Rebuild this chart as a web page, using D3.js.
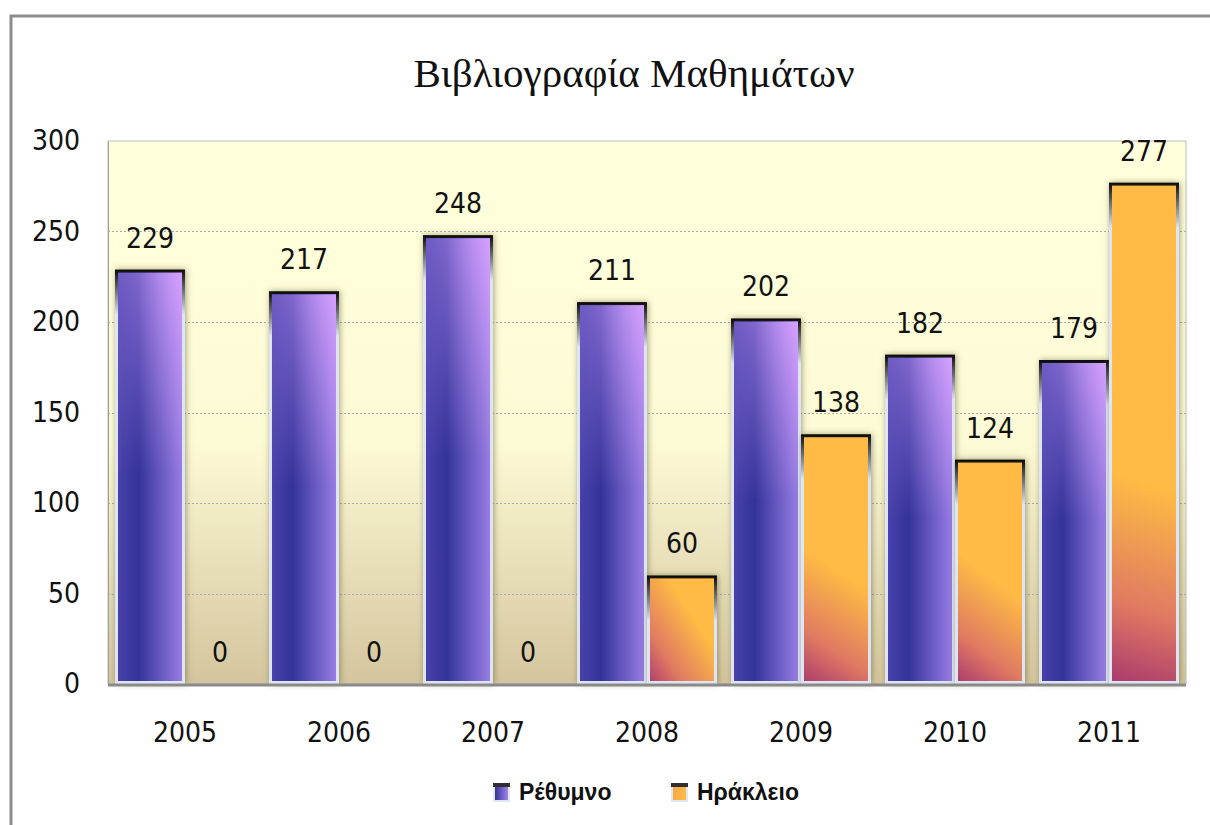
<!DOCTYPE html>
<html>
<head>
<meta charset="utf-8">
<script src="https://cdn.jsdelivr.net/npm/d3@7"></script>
<style>
  body { margin: 0; background: #fff; }
  svg text { fill: #111; }
</style>
</head>
<body>
<script>
// chart data
var years = ["2005", "2006", "2007", "2008", "2009", "2010", "2011"];
var seriesNames = ["Ρέθυμνο", "Ηράκλειο"];
var rethymno = [229, 217, 248, 211, 202, 182, 179];
var heraklio = [0, 0, 0, 60, 138, 124, 277];
var yTicks = [0, 50, 100, 150, 200, 250, 300];
var title = "Βιβλιογραφία Μαθημάτων";

var svgWidth = 1210, svgHeight = 825;
var plot = { left: 108, top: 141, right: 1186, bottom: 684 };
var numFont = "'DejaVu Sans Condensed', 'Liberation Sans', sans-serif";

var svg = d3.select("body").append("svg")
  .attr("width", svgWidth)
  .attr("height", svgHeight);

var defs = svg.append("defs");

// plot background
var bg = defs.append("linearGradient").attr("id", "bgGrad")
  .attr("x1", 0).attr("y1", 0).attr("x2", 0).attr("y2", 1);
bg.append("stop").attr("offset", 0).attr("stop-color", "#ffffdc");
bg.append("stop").attr("offset", 0.55).attr("stop-color", "#fdfbd6");
bg.append("stop").attr("offset", 1).attr("stop-color", "#d4c59e");

// purple bars
var pg = defs.append("linearGradient").attr("id", "purpleGrad")
  .attr("x1", 0).attr("y1", 0).attr("x2", 1).attr("y2", 0);
pg.append("stop").attr("offset", 0).attr("stop-color", "#4a42ab");
pg.append("stop").attr("offset", 0.33).attr("stop-color", "#333399");
pg.append("stop").attr("offset", 1).attr("stop-color", "#9a7ee6");

// lavender sheen, stronger to the right and to the top
var ph = defs.append("linearGradient").attr("id", "purpleSheen")
  .attr("x1", 0).attr("y1", 0).attr("x2", 1).attr("y2", 0);
ph.append("stop").attr("offset", 0).attr("stop-color", "#b58cf5").attr("stop-opacity", 0.35);
ph.append("stop").attr("offset", 1).attr("stop-color", "#d9a3ff").attr("stop-opacity", 0.95);

var pm = defs.append("linearGradient").attr("id", "sheenMaskGrad")
  .attr("x1", 0).attr("y1", 0).attr("x2", 0).attr("y2", 1);
pm.append("stop").attr("offset", 0).attr("stop-color", "#fff");
pm.append("stop").attr("offset", 0.5).attr("stop-color", "#000");

defs.append("mask").attr("id", "sheenMask")
  .attr("maskContentUnits", "objectBoundingBox")
  .append("rect").attr("width", 1).attr("height", 1).attr("fill", "url(#sheenMaskGrad)");

var shadow = defs.append("filter").attr("id", "barShadow")
  .attr("x", "-20%").attr("y", "-20%").attr("width", "140%").attr("height", "140%");
shadow.append("feDropShadow")
  .attr("dx", 1).attr("dy", 0).attr("stdDeviation", 3)
  .attr("flood-color", "#5a5428").attr("flood-opacity", 0.55);

// outer frame
svg.append("rect")
  .attr("x", 11).attr("y", 16)
  .attr("width", svgWidth + 50).attr("height", svgHeight + 50)
  .attr("fill", "none").attr("stroke", "#8c8c8c").attr("stroke-width", 3);

// title
svg.append("text")
  .attr("x", 634).attr("y", 87)
  .attr("text-anchor", "middle")
  .style("font-family", "'Liberation Serif', 'DejaVu Serif', serif")
  .style("font-size", "41px")
  .text(title);

// scales
var x0 = d3.scaleBand()
  .domain(years)
  .range([plot.left, plot.right])
  .paddingInner(14 / 154)
  .paddingOuter(7 / 154);

var x1 = d3.scaleBand()
  .domain(seriesNames)
  .range([0, x0.bandwidth()]);

var y = d3.scaleLinear()
  .domain([0, 300])
  .range([plot.bottom, plot.top]);

// plot area
svg.append("rect")
  .attr("x", plot.left).attr("y", plot.top)
  .attr("width", plot.right - plot.left).attr("height", plot.bottom - plot.top)
  .attr("fill", "url(#bgGrad)")
  .attr("stroke", "#bdbdbd").attr("stroke-width", 1);

// gridlines
svg.append("g")
  .selectAll("line")
  .data(yTicks.filter(d => d > 0 && d < 300))
  .enter().append("line")
  .attr("x1", plot.left).attr("x2", plot.right)
  .attr("y1", d => Math.round(y(d)) + 0.5).attr("y2", d => Math.round(y(d)) + 0.5)
  .attr("stroke", "#a8a8b0")
  .attr("stroke-dasharray", "2,2");

// y axis labels
var yAxis = d3.axisLeft(y).tickValues(yTicks).tickSize(0).tickPadding(28);
var yg = svg.append("g")
  .attr("transform", `translate(${plot.left},0)`)
  .call(yAxis);
yg.select(".domain").attr("stroke", "#a0a0a0");
yg.selectAll("text")
  .style("font-family", numFont)
  .style("font-size", "28px")
  .attr("fill", "#111");

// x axis labels
var xAxis = d3.axisBottom(x0).tickSize(0).tickPadding(38);
var xg = svg.append("g")
  .attr("transform", `translate(0,${plot.bottom})`)
  .call(xAxis);
xg.select(".domain").remove();
xg.selectAll("text")
  .style("font-family", numFont)
  .style("font-size", "28px")
  .attr("fill", "#111");

// build rows
var rows = [];
years.forEach(function(yr, i) {
  rows.push({ year: yr, series: seriesNames[0], value: rethymno[i], idx: i });
  rows.push({ year: yr, series: seriesNames[1], value: heraklio[i], idx: i });
});

var bars = rows.filter(d => d.value > 0);

// per-bar gradients (stroke and orange fill)
bars.forEach(function(d, k) {
  var bx = x0(d.year) + x1(d.series);
  var top = y(d.value);
  var h = y(0) - top;
  var sg = defs.append("linearGradient").attr("id", "stroke" + k)
    .attr("gradientUnits", "userSpaceOnUse")
    .attr("x1", 0).attr("y1", top).attr("x2", 0).attr("y2", top + 45);
  sg.append("stop").attr("offset", 0).attr("stop-color", "#0a0a0a");
  sg.append("stop").attr("offset", 1).attr("stop-color", "#dde4f3");
  if (d.series === seriesNames[1]) {
    var og = defs.append("linearGradient").attr("id", "orange" + k)
      .attr("gradientUnits", "userSpaceOnUse")
      .attr("x1", bx).attr("y1", plot.bottom)
      .attr("x2", bx + 90).attr("y2", plot.bottom - 0.55 * h);
    og.append("stop").attr("offset", 0).attr("stop-color", "#a8386e");
    og.append("stop").attr("offset", 0.28).attr("stop-color", "#df7a62");
    og.append("stop").attr("offset", 0.7).attr("stop-color", "#ffbb44");
  }
  d.k = k;
});

var barG = svg.append("g");

barG.selectAll("rect.bar")
  .data(bars)
  .enter().append("rect")
  .attr("class", "bar")
  .attr("x", d => x0(d.year) + x1(d.series) + 1.5)
  .attr("y", d => y(d.value) + 1.5)
  .attr("width", x1.bandwidth() - 3)
  .attr("height", d => y(0) - y(d.value) - 3)
  .attr("fill", d => d.series === seriesNames[0] ? "url(#purpleGrad)" : "url(#orange" + d.k + ")")
  .attr("stroke", d => "url(#stroke" + d.k + ")")
  .attr("stroke-width", 3)
  .attr("filter", "url(#barShadow)");

barG.selectAll("rect.hl")
  .data(bars.filter(d => d.series === seriesNames[0]))
  .enter().append("rect")
  .attr("class", "hl")
  .attr("x", d => x0(d.year) + x1(d.series) + 3)
  .attr("y", d => y(d.value) + 3)
  .attr("width", x1.bandwidth() - 6)
  .attr("height", d => y(0) - y(d.value) - 6)
  .attr("fill", "url(#purpleSheen)")
  .attr("mask", "url(#sheenMask)");

// bottom axis line
svg.append("line")
  .attr("x1", plot.left).attr("x2", plot.right)
  .attr("y1", plot.bottom + 1).attr("y2", plot.bottom + 1)
  .attr("stroke", "#8a8a8a").attr("stroke-width", 3);

// value labels
svg.append("g")
  .selectAll("text")
  .data(rows)
  .enter().append("text")
  .attr("x", d => x0(d.year) + x1(d.series) + x1.bandwidth() / 2)
  .attr("y", d => y(d.value) - 22)
  .attr("text-anchor", "middle")
  .style("font-family", numFont)
  .style("font-size", "28px")
  .text(d => d.value);

// legend
var legendX = [493, 671];
var legendColors = [["#333399", "#a283ea"], ["#f7a847", "#ffbb44"]];
var lg = svg.append("g");
seriesNames.forEach(function(name, i) {
  var g = lg.append("g").attr("transform", `translate(${legendX[i]},783)`);
  var lgGrad = defs.append("linearGradient").attr("id", "leg" + i)
    .attr("x1", 0).attr("y1", 0).attr("x2", 1).attr("y2", 0);
  lgGrad.append("stop").attr("offset", 0).attr("stop-color", legendColors[i][0]);
  lgGrad.append("stop").attr("offset", 1).attr("stop-color", legendColors[i][1]);
  g.append("rect").attr("x", 0).attr("y", 0).attr("width", 17).attr("height", 19)
    .attr("fill", "#dfe6f4");
  g.append("rect").attr("x", 0).attr("y", 0).attr("width", 17).attr("height", 4)
    .attr("fill", "#303030");
  g.append("rect").attr("x", 2).attr("y", 4).attr("width", 13).attr("height", 13)
    .attr("fill", "url(#leg" + i + ")");
  g.append("text")
    .attr("x", 26).attr("y", 17)
    .style("font-family", "'Liberation Sans', Arial, sans-serif")
    .style("font-size", "23px")
    .style("font-weight", "bold")
    .text(name);
});
</script>
</body>
</html>
